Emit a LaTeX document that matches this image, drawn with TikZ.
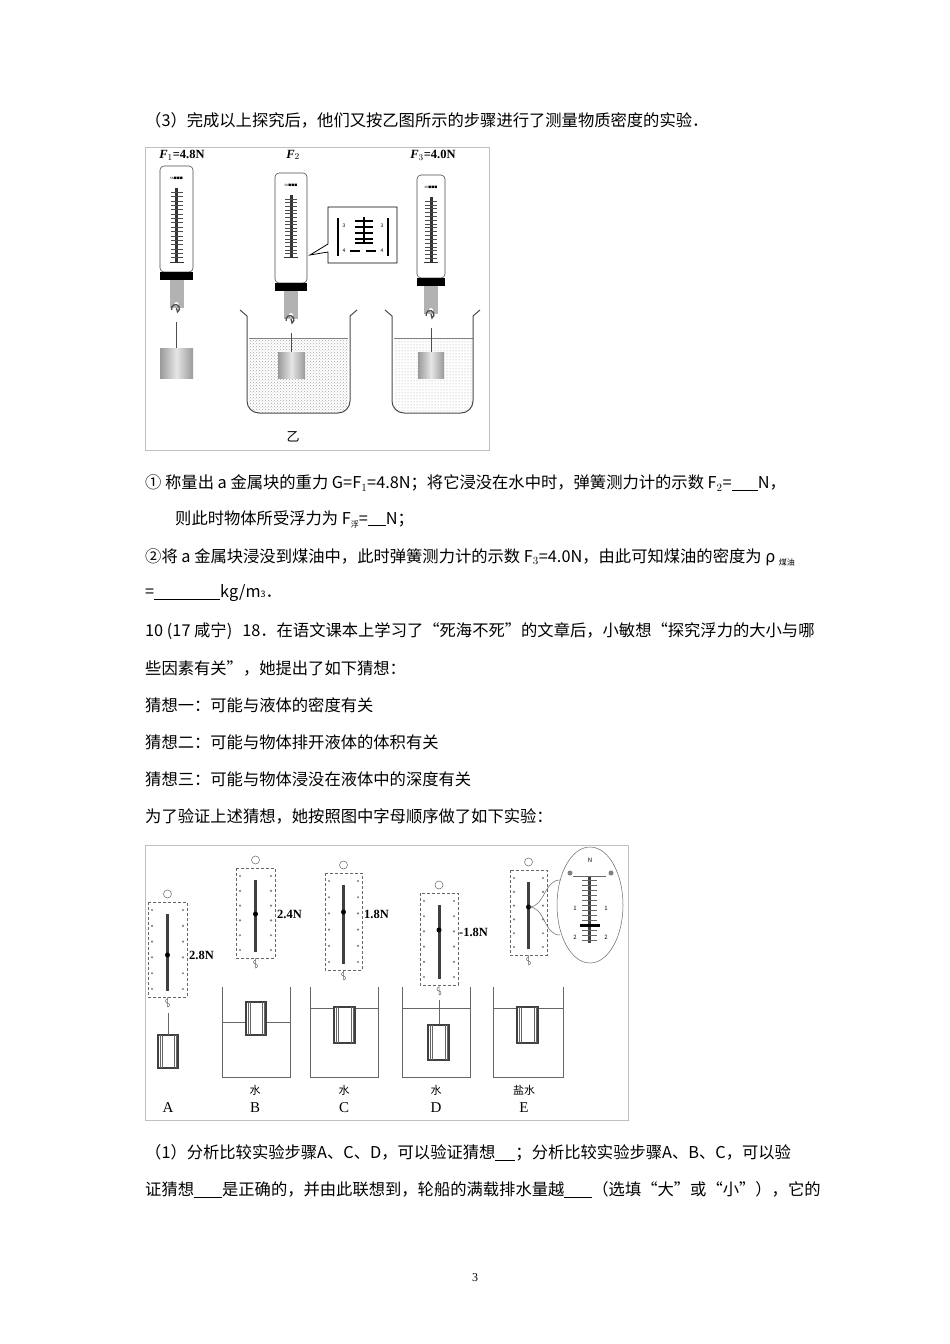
\documentclass[tikz,border=0pt]{standalone}
\usepackage{fontspec}
\setmainfont{Noto Sans CJK SC}
\newfontfamily\serifF{Liberation Serif}
\usetikzlibrary{patterns}
\tikzset{
 txt/.style={anchor=west,inner sep=0,font=\fontsize{16.3}{18}\selectfont},
 lbl/.style={inner sep=0,font=\serifF\bfseries\fontsize{12.5}{13}\selectfont},
 frame/.style={draw=black!25,line width=0.8},
 body/.style={draw=black!70,fill=white,line width=0.6},
 thin/.style={draw=black!60,line width=0.5},
}
\newcommand{\mySpring}[5]{% x1 y1 x2 y2 pointer-y
 \draw[body,rounded corners=4] (#1,#2) rectangle (#3,#4);
 \fill[black!80] ({(#1+#3)/2-1.5},{#2+22}) rectangle ({(#1+#3)/2+1.5},#5);
 \foreach \k in {0,...,16}{\draw[black!70,line width=0.5] ({(#1+#3)/2-6},{#2+26+\k*(#5-#2-26)/16}) -- ({(#1+#3)/2+6},{#2+26+\k*(#5-#2-26)/16});}
 \draw[black!80,line width=1] ({(#1+#3)/2-7},#5) -- ({(#1+#3)/2+7},#5);
 \node[inner sep=0,font=\fontsize{3}{3}\selectfont] at ({(#1+#3)/2},{#2+12}) {5N\\[-1pt]■■■};
 \fill[black] (#1,#4) rectangle (#3,{#4+8});
 \fill[black!30] ({(#1+#3)/2-7},{#4+8}) rectangle ({(#1+#3)/2+7},{#4+36});
 \fill[white] ({(#1+#3)/2},{#4+32}) circle (2);
 \draw[line width=1.3,black!70] ({(#1+#3)/2},{#4+36}) -- ({(#1+#3)/2+1},{#4+40}) arc (60:-200:4);
}
\newcommand{\myWeight}[4]{\shade[left color=black!40,right color=black!40,middle color=black!10] (#1,#2) rectangle (#3,#4);}
\newcommand{\myBeaker}[4]{% x1 y1 x2 y2
 \draw[line width=1,black!70] (#1,#2) -- ({#1+7},{#2+6}) -- ({#1+7},{#4-12}) to[out=-90,in=180] ({#1+19},#4) -- ({#3-19},#4) to[out=0,in=-90] ({#3-7},{#4-12}) -- ({#3-7},{#2+6}) -- (#3,#2);}
\newcommand{\myScale}[5]{% x1 y1 x2 y2 pointer-y
 \draw[thin,densely dashed,fill=white] (#1,#2) rectangle (#3,#4);
 \draw[thin] ({(#1+#3)/2},{#2-8}) circle (4);
 \fill[black!75] ({(#1+#3)/2-1.5},{#2+12}) rectangle ({(#1+#3)/2+1.5},{#4-6});
 \fill[black] ({(#1+#3)/2},#5) circle (2.5);
 \foreach \k in {0,...,5}{\fill[black!50] ({#1+4},{#2+8+\k*(#4-#2-16)/5}) circle (1.2); \fill[black!50] ({#3-4},{#2+8+\k*(#4-#2-16)/5}) circle (1.2);}
 \draw[thin] ({(#1+#3)/2},#4) -- ({(#1+#3)/2},{#4+10}) arc (90:-90:2) arc (90:270:2);
}
\newcommand{\myCup}[5]{% x1 y1 x2 y2 water
 \draw[thin,line width=0.8] (#1,#2) -- (#1,#4) -- (#3,#4) -- (#3,#2);
 \draw[thin] (#1,#5) -- (#3,#5);}
\newcommand{\myBlock}[4]{\draw[line width=1.5,black!75,fill=white] (#1,#2) rectangle (#3,#4);
 \foreach \q in {2,4}{\draw[black!60,line width=1] ({#1+\q},#2)--({#1+\q},#4); \draw[black!60,line width=1] ({#3-\q},#2)--({#3-\q},#4);}}
\begin{document}
\begin{tikzpicture}[x=1pt,y=-1pt]
\useasboundingbox (0,0) rectangle (950,1344);
\fill[white] (0,0) rectangle (950,1344);
\node[txt] (t1) at (145,120) {（3）完成以上探究后，他们又按乙图所示的步骤进行了测量物质密度的实验．};
% top figure
\draw[frame] (145,147) rectangle (489,450);
\node[lbl] (f1) at (182,155) {\textit{F}$_1$=4.8N};
\node[lbl] (f2) at (293,155) {\textit{F}$_2$};
\node[lbl] (f3) at (433,155) {\textit{F}$_3$=4.0N};
\mySpring{160}{166}{193}{272}{262}
\draw[black!70,line width=0.8] (176.5,322) -- (176.5,348);
\myWeight{160}{348}{193}{378}
\fill[pattern=crosshatch dots,pattern color=black!35] (249,338) -- (249,401) to[out=-90,in=180] (261,413) -- (336,413) to[out=0,in=-90] (348,401) -- (348,338) -- cycle;
\draw[black!50] (249,338) -- (348,338);
\mySpring{275}{173}{307}{283}{257}
\draw[black!70,line width=0.8] (291,333) -- (291,352);
\myWeight{278}{352}{305}{378}
\myBeaker{240}{310}{357}{413}
\fill[pattern=dots,pattern color=black!35] (394,338) -- (394,401) to[out=-90,in=180] (406,413) -- (461,413) to[out=0,in=-90] (473,401) -- (473,338) -- cycle;
\draw[black!50] (394,338) -- (473,338);
\mySpring{417}{175}{445}{278}{262}
\draw[black!70,line width=0.8] (431,328) -- (431,352);
\myWeight{418}{352}{444}{378}
\myBeaker{385}{310}{480}{413}
\draw[line width=0.8,fill=white] (328,207) -- (397,207) -- (397,263) -- (328,263) -- (328,252) -- (310,255) -- (328,244) -- cycle;
\draw[line width=1.5] (338,218) -- (338,256) (388,218) -- (388,256);
\fill (363,217) rectangle (365,244);
\foreach \yy in {221,227,233,239,243}{\draw[line width=1.2] (355,\yy) -- (373,\yy);}
\draw[line width=1.5] (350,251) -- (360,251) (366,251) -- (376,251);
\node[inner sep=0,font=\fontsize{5}{5}\selectfont] (c3a) at (344,226) {3};
\node[inner sep=0,font=\fontsize{5}{5}\selectfont] (c3b) at (382,226) {3};
\node[inner sep=0,font=\fontsize{5}{5}\selectfont] (c4a) at (344,251) {4};
\node[inner sep=0,font=\fontsize{5}{5}\selectfont] (c4b) at (382,251) {4};
\node[inner sep=0,font=\fontsize{13}{14}\selectfont] (yi) at (293,437) {乙};
% text
\node[txt] (t2) at (145,483) {① 称量出 a 金属块的重力 G=F$_1$=4.8N；将它浸没在水中时，弹簧测力计的示数 F$_2$=\underline{\hspace{26pt}}N，};
\node[txt] (t3) at (175,519) {则此时物体所受浮力为 F{\fontsize{8}{8}\selectfont\raisebox{-3pt}{浮}}=\underline{\hspace{18pt}}N；};
\node[txt] (t4) at (145,557) {②将 a 金属块浸没到煤油中，此时弹簧测力计的示数 F$_3$=4.0N，由此可知煤油的密度为 ρ {\fontsize{8}{8}\selectfont\raisebox{-3pt}{煤油}}};
\node[txt] (t5) at (145,593) {=\underline{\hspace{66pt}}kg/m{\fontsize{9}{9}\selectfont 3}．};
\node[txt] (t6) at (145,631) {10 (17 咸宁)\hspace{10pt}18．在语文课本上学习了“死海不死”的文章后，小敏想“探究浮力的大小与哪};
\node[txt] (t7) at (145,668) {些因素有关”，她提出了如下猜想：};
\node[txt] (t8) at (145,705) {猜想一：可能与液体的密度有关};
\node[txt] (t9) at (145,742) {猜想二：可能与物体排开液体的体积有关};
\node[txt] (t10) at (145,779) {猜想三：可能与物体浸没在液体中的深度有关};
\node[txt] (t11) at (145,816) {为了验证上述猜想，她按照图中字母顺序做了如下实验：};
% bottom figure
\draw[frame] (145,845) rectangle (628,1120);
\myScale{148}{902}{187}{997}{955}
\myBlock{158}{1035}{178}{1068}
\draw[thin] (168,1013) -- (168,1035);
\node[lbl,anchor=west] (lA) at (189,955) {2.8N};
\myCup{222}{987}{290}{1077}{1022}
\myScale{236}{868}{275}{958}{914}
\myBlock{246}{1002}{266}{1035}
\node[lbl,anchor=west] (lB) at (277,914) {2.4N};
\myCup{310}{987}{378}{1077}{1008}
\myScale{325}{873}{362}{970}{912}
\myBlock{334}{1007}{355}{1043}
\node[lbl,anchor=west] (lC) at (364,914) {1.8N};
\myCup{402}{987}{470}{1077}{1008}
\myScale{420}{893}{458}{985}{930}
\draw[thin] (439,1000) -- (439,1025);
\myBlock{428}{1025}{449}{1060}
\node[lbl,anchor=west] (lD) at (459,932) {-1.8N};
\myCup{493}{987}{563}{1077}{1008}
\myScale{510}{870}{547}{955}{907}
\myBlock{517}{1007}{538}{1043}
\draw[thin,fill=white] (590,905) ellipse (33 and 58);
\draw[thin] (529,907) to[out=0,in=180] (560,880) (529,907) to[out=0,in=180] (560,935);
\fill[black!75] (588,876) rectangle (591,943);
\draw[thin] (573,876) -- (606,876);
\foreach \k in {0,...,12}{\draw[black!60] (582,{880+\k*5}) -- (597,{880+\k*5});}
\fill (580,924) rectangle (600,927);
\node[inner sep=0,font=\fontsize{6}{6}\selectfont] (eN) at (590,860) {N};
\node[inner sep=0,font=\fontsize{6}{6}\selectfont] (e1) at (575,908) {1};
\node[inner sep=0,font=\fontsize{6}{6}\selectfont] (e1b) at (606,908) {1};
\node[inner sep=0,font=\fontsize{6}{6}\selectfont] (e2) at (575,937) {2};
\node[inner sep=0,font=\fontsize{6}{6}\selectfont] (e2b) at (606,937) {2};
\fill[black!50] (570,873) circle (2.5) (611,873) circle (2.5);
\foreach \xx/\w/\n in {255/水/B,344/水/C,436/水/D,524/盐水/E}{
 \node[inner sep=0,font=\fontsize{11}{11}\selectfont] at (\xx,1090) {\w};
 \node[inner sep=0,font=\serifF\fontsize{15}{15}\selectfont] at (\xx,1108) {\n};}
\node[inner sep=0,font=\serifF\fontsize{15}{15}\selectfont] (LA) at (168,1108) {A};
% bottom text
\node[txt] (t12) at (145,1153) {（1）分析比较实验步骤A、C、D，可以验证猜想\underline{\hspace{20pt}}；分析比较实验步骤A、B、C，可以验};
\node[txt] (t13) at (145,1190) {证猜想\underline{\hspace{28pt}}是正确的，并由此联想到，轮船的满载排水量越\underline{\hspace{28pt}}（选填“大”或“小”），它的};
\node[inner sep=0,font=\serifF\fontsize{12}{12}\selectfont] (pg) at (475,1278) {3};
\end{tikzpicture}
\end{document}
